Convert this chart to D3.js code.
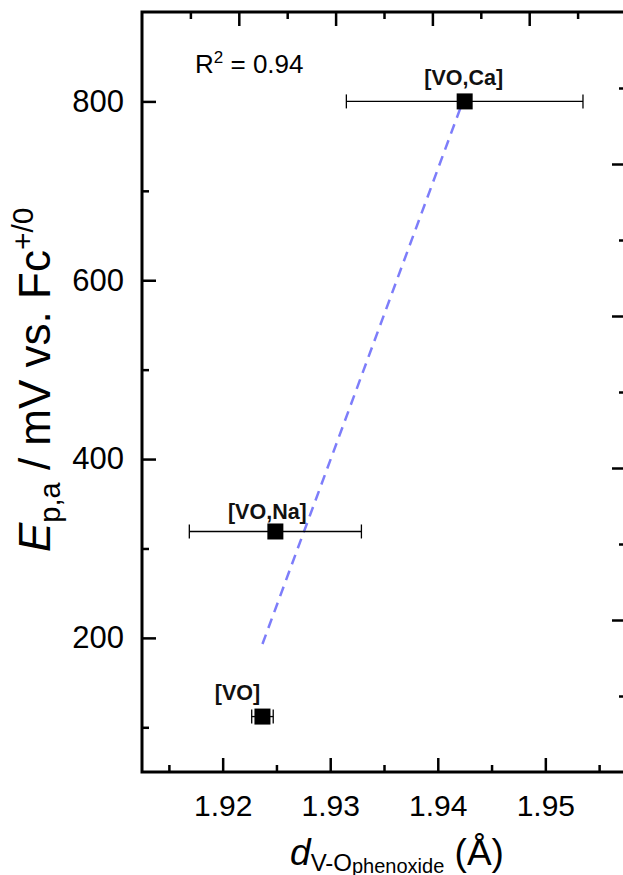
<!DOCTYPE html>
<html>
<head>
<meta charset="utf-8">
<script src="https://cdn.jsdelivr.net/npm/d3@7"></script>
<style>
  html, body { margin: 0; padding: 0; background: #fff; }
  svg { display: block; font-family: "Liberation Sans", Arial, sans-serif; }
</style>
</head>
<body>
<div id="chart"></div>
<script>
// data
const compounds = ["[VO]", "[VO,Na]", "[VO,Ca]"];
const dVO = [1.9237, 1.9249, 1.9425];     // Å
const dErr = [0.0010, 0.0080, 0.0110];    // Å
const Epa = [112, 319, 800];              // mV vs Fc+/0
const xTicks = [1.92, 1.93, 1.94, 1.95];
const xMinor = [1.915, 1.925, 1.935, 1.945, 1.955];
const yTicks = [200, 400, 600, 800];
const yMinor = [100, 300, 500, 700];
const frameTicks = [1, 2, 3, 4];
const frameMinor = [0.5, 1.5, 2.5, 3.5, 4.5];
const r2Text = "0.94";

const W = 623, H = 875;
const margin = { top: 12, right: -3, bottom: 103, left: 142 };
const width = W - margin.left - margin.right;
const height = H - margin.top - margin.bottom;

const svg = d3.select('#chart').append('svg')
  .attr('width', W)
  .attr('height', H);

const g = svg.append('g')
  .attr('transform', `translate(${margin.left},${margin.top})`);

const x = d3.scaleLinear().domain([1.9125, 1.9575]).range([0, width]);
const y = d3.scaleLinear().domain([50, 900]).range([height, 0]);
// top/right axes of the original are not linked to the data axes
const xTop = d3.scaleLinear().domain([0, 5]).range([0, width]);
const yRight = d3.scaleLinear().domain([0, 5]).range([0, height]);

const pts = compounds.map((c, i) => ({ name: c, x: dVO[i], err: dErr[i], y: Epa[i] }));

// linear fit
const mx = d3.mean(pts, d => d.x), my = d3.mean(pts, d => d.y);
const sxy = d3.sum(pts, d => (d.x - mx) * (d.y - my));
const sxx = d3.sum(pts, d => (d.x - mx) ** 2);
const slope = sxy / sxx, icpt = my - slope * mx;
const xr = d3.extent(pts, d => d.x);

g.append('line')
  .attr('x1', x(xr[0])).attr('y1', y(icpt + slope * xr[0]))
  .attr('x2', x(xr[1])).attr('y2', y(icpt + slope * xr[1]))
  .attr('stroke', '#7d7dfa')
  .attr('stroke-width', 2.5)
  .attr('stroke-dasharray', '10,7');

// error bars
const eb = g.append('g').attr('stroke', '#000').attr('stroke-width', 1.3);
pts.forEach(d => {
  eb.append('line')
    .attr('x1', x(d.x - d.err)).attr('x2', x(d.x + d.err))
    .attr('y1', y(d.y)).attr('y2', y(d.y));
  [d.x - d.err, d.x + d.err].forEach(v => {
    eb.append('line')
      .attr('x1', x(v)).attr('x2', x(v))
      .attr('y1', y(d.y) - 7).attr('y2', y(d.y) + 7);
  });
});

g.selectAll('rect.pt')
  .data(pts)
  .join('rect')
  .attr('class', 'pt')
  .attr('x', d => x(d.x) - 8)
  .attr('y', d => y(d.y) - 8)
  .attr('width', 16)
  .attr('height', 16)
  .attr('fill', '#000');

// point labels (offsets hand-placed like in the original)
const labelOffset = [[-25, -17], [-8, -12], [-1, -16]];
g.selectAll('text.lbl')
  .data(pts)
  .join('text')
  .attr('class', 'lbl')
  .attr('x', (d, i) => x(d.x) + labelOffset[i][0])
  .attr('y', (d, i) => y(d.y) + labelOffset[i][1])
  .attr('text-anchor', 'middle')
  .attr('font-size', 21.5)
  .attr('font-weight', 'bold')
  .attr('fill', '#111')
  .text(d => d.name);

// axes
function styleAxis(sel) {
  sel.select('.domain').remove();
  sel.selectAll('line').attr('stroke', '#000').attr('stroke-width', 2.5);
  sel.selectAll('text').attr('fill', '#000').attr('font-family', '"Liberation Sans", Arial, sans-serif');
}

g.append('g')
  .attr('transform', `translate(0,${height})`)
  .call(d3.axisBottom(x).tickValues(xTicks).tickSize(-14).tickPadding(23).tickFormat(d3.format('.2f')))
  .call(styleAxis)
  .selectAll('text').attr('font-size', 30);
g.append('g')
  .attr('transform', `translate(0,${height})`)
  .call(d3.axisBottom(x).tickValues(xMinor).tickSize(-7).tickFormat(''))
  .call(styleAxis);

g.append('g')
  .call(d3.axisLeft(y).tickValues(yTicks).tickSize(-14).tickPadding(18))
  .call(styleAxis)
  .selectAll('text').attr('font-size', 31);
g.append('g')
  .call(d3.axisLeft(y).tickValues(yMinor).tickSize(-7).tickFormat(''))
  .call(styleAxis);

g.append('g')
  .call(d3.axisTop(xTop).tickValues(frameTicks).tickSize(-14).tickFormat(''))
  .call(styleAxis);
g.append('g')
  .call(d3.axisTop(xTop).tickValues(frameMinor).tickSize(-7).tickFormat(''))
  .call(styleAxis);
g.append('g')
  .attr('transform', `translate(${width},0)`)
  .call(d3.axisRight(yRight).tickValues(frameTicks).tickSize(-14).tickFormat(''))
  .call(styleAxis);
g.append('g')
  .attr('transform', `translate(${width},0)`)
  .call(d3.axisRight(yRight).tickValues(frameMinor).tickSize(-7).tickFormat(''))
  .call(styleAxis);

g.append('rect')
  .attr('width', width).attr('height', height)
  .attr('fill', 'none')
  .attr('stroke', '#000')
  .attr('stroke-width', 3);

// R^2 annotation
const r2 = g.append('text')
  .attr('x', 53).attr('y', 61)
  .attr('font-size', 26)
  .attr('fill', '#000');
r2.append('tspan').text('R');
r2.append('tspan').attr('dy', -10).attr('font-size', 17).text('2');
r2.append('tspan').attr('dy', 10).text(' = ' + r2Text);

// x title
const xt = svg.append('text')
  .attr('x', margin.left + width / 2 + 13)
  .attr('y', 865)
  .attr('text-anchor', 'middle')
  .attr('font-size', 37)
  .attr('fill', '#000');
xt.append('tspan').attr('font-style', 'italic').text('d');
xt.append('tspan').attr('dy', 6).attr('font-size', 24).text('V-O');
xt.append('tspan').attr('dy', 2).attr('font-size', 20).text('phenoxide');
xt.append('tspan').attr('dy', -8).text(' (Å)');

// y title
const yt = svg.append('text')
  .attr('transform', 'translate(50,552) rotate(-90)')
  .attr('text-anchor', 'start')
  .attr('font-size', 44)
  .attr('fill', '#000');
yt.append('tspan').attr('font-style', 'italic').text('E');
yt.append('tspan').attr('dy', 10).attr('font-size', 29).text('p,a');
yt.append('tspan').attr('dy', -10).text(' / mV vs. Fc');
yt.append('tspan').attr('dy', -17).attr('font-size', 30).text('+/0');
</script>
</body>
</html>
